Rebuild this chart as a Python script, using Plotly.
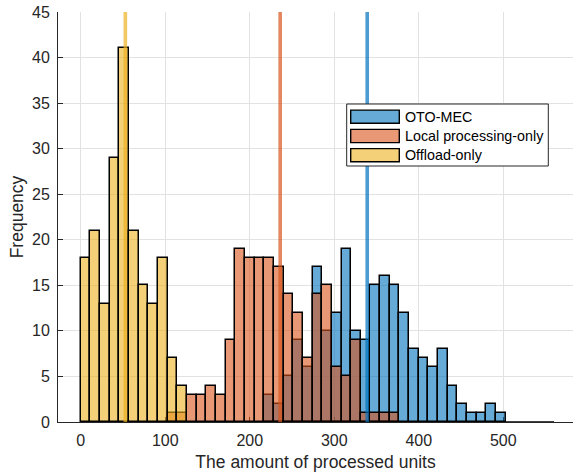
import plotly.graph_objects as go

# ---- data ----
bin_start = 0.0
bin_width = 560.0 / 49          # common bin width for all three histograms
n_bins = 49

series_names = ["OTO-MEC", "Local processing-only", "Offload-only"]

# counts per bin index (bin k covers [k*w, (k+1)*w))
oto_mec_first_bin = 19
oto_mec_counts = [3, 2, 5, 9, 6, 17, 10, 12, 19, 10, 9, 15, 16, 15, 12, 8, 7, 6, 8, 4, 2, 1, 1, 2, 1]

local_first_bin = 9
local_counts = [1, 1, 3, 3, 4, 3, 9, 19, 18, 18, 18, 17, 14, 12, 7, 14, 15, 6, 5, 9, 1, 1, 1, 1]

offload_first_bin = 0
offload_counts = [18, 21, 13, 29, 41, 21, 15, 13, 18, 7, 4]

# mean markers (vertical lines)
mean_values = [339.0, 236.0, 52.8]

x_tick_values = [0, 100, 200, 300, 400, 500]
x_tick_labels = ["0", "100", "200", "300", "400", "500"]
y_tick_values = [0, 5, 10, 15, 20, 25, 30, 35, 40, 45]
y_tick_labels = [str(v) for v in y_tick_values]

x_title = "The amount of processed units"
y_title = "Frequency"

# ---- styles ----
base_rgb = [(0, 114, 189), (217, 83, 25), (237, 177, 32)]
face_alpha = 0.6
line_alpha = 0.7
text_color = "#262626"
font_family = "Liberation Sans, Arial, Helvetica, sans-serif"


def rgba(c, a):
    return f"rgba({c[0]},{c[1]},{c[2]},{a})"


fig = go.Figure()

series = [
    (oto_mec_first_bin, oto_mec_counts),
    (local_first_bin, local_counts),
    (offload_first_bin, offload_counts),
]
for (first, counts), name, col in zip(series, series_names, base_rgb):
    centers = [bin_start + (first + i + 0.5) * bin_width for i in range(len(counts))]
    fig.add_trace(go.Bar(
        x=centers, y=counts, width=bin_width, name=name,
        marker=dict(color=rgba(col, face_alpha), line=dict(color="black", width=1.5)),
        showlegend=False,
    ))

# zero-height bins of the histograms show as a black baseline over all edges
edges_first = bin_start
edges_last = bin_start + n_bins * bin_width
fig.add_trace(go.Scatter(
    x=[edges_first, edges_last], y=[0, 0], mode="lines",
    line=dict(color="black", width=1.6), showlegend=False, hoverinfo="skip",
    cliponaxis=False,
))

# mean lines
for m, col in zip(mean_values, base_rgb):
    fig.add_shape(type="line", xref="x", yref="paper", x0=m, x1=m, y0=0, y1=1,
                  line=dict(color=rgba(col, line_alpha), width=3.6), layer="above")

# ---- custom legend (MATLAB-like) ----
L, T_, W, H = 58, 12, 515, 410


def px(xp):
    return (xp - L) / W


def py(yp):
    return (T_ + H - yp) / H


fig.add_shape(type="rect", xref="paper", yref="paper",
              x0=px(346.7), x1=px(548.3), y0=py(166), y1=py(104),
              line=dict(color="#262626", width=1), fillcolor="white", layer="above")
row_y = [116.7, 136.0, 155.2]
for ry, name, col in zip(row_y, series_names, base_rgb):
    fig.add_shape(type="rect", xref="paper", yref="paper",
                  x0=px(350.7), x1=px(399.3), y0=py(ry + 6.6), y1=py(ry - 6.6),
                  line=dict(color="black", width=1.4), fillcolor=rgba(col, face_alpha),
                  layer="above")
    fig.add_annotation(xref="paper", yref="paper", x=px(402.5), y=py(ry),
                       text=name, showarrow=False, xanchor="left", yanchor="middle",
                       font=dict(family=font_family, size=14.3, color="black"))

axis_common = dict(
    showgrid=True, gridcolor="#E2E2E2", gridwidth=1,
    showline=True, linecolor=text_color, linewidth=1,
    ticks="inside", ticklen=5, tickcolor=text_color, tickwidth=1,
    zeroline=False, layer="below traces",
    tickfont=dict(family=font_family, size=16, color=text_color),
)

fig.update_layout(
    width=573, height=475,
    margin=dict(l=L, r=0, t=T_, b=475 - T_ - H, pad=0),
    paper_bgcolor="white", plot_bgcolor="white",
    barmode="overlay", bargap=0,
    showlegend=False,
    font=dict(family=font_family, color=text_color),
    xaxis=dict(range=[-26.9, 582.5], tickmode="array", tickvals=x_tick_values,
               ticktext=x_tick_labels, ticklabelstandoff=4,
               title=dict(text=x_title, standoff=7,
                          font=dict(family=font_family, size=17.5, color=text_color)),
               automargin=False, **axis_common),
    yaxis=dict(range=[0, 45], tickmode="array", tickvals=y_tick_values,
               ticktext=y_tick_labels, ticklabelstandoff=4,
               title=dict(text=y_title, standoff=3,
                          font=dict(family=font_family, size=17.5, color=text_color)),
               automargin=False, **axis_common),
)

fig.write_html("out.html",
               config={"displayModeBar": False},
               post_script="document.body.style.margin='0px';document.body.style.overflow='hidden';")
